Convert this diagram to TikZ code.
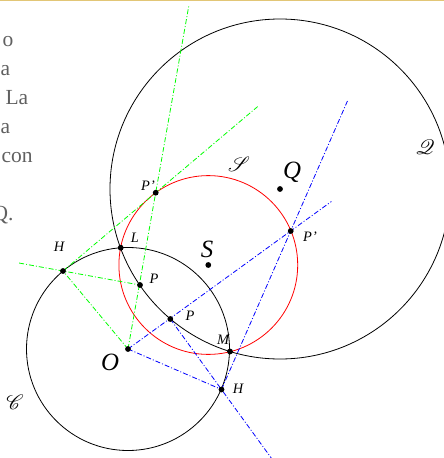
\documentclass[tikz,border=0pt]{standalone}
\usepackage{fontspec}
\setmainfont{Liberation Serif}
\usepackage{mathrsfs}
\usepackage{tikz}
\usetikzlibrary{calc}
\definecolor{pagerule}{RGB}{226,198,118}
\definecolor{pagetext}{RGB}{96,96,96}

\begin{document}
\begin{tikzpicture}[x=1pt,y=-1pt,
    every node/.style={font=\Large\itshape},
    aux/.style={line width=0.8pt, dash pattern=on 5pt off 2pt on 1pt off 2pt},
    big/.style={font=\Huge\itshape},
    scr/.style={font=\huge},
    pagefrag/.style={anchor=base west, text=pagetext, font=\fontsize{21.5}{24}\selectfont}]
    \useasboundingbox (0,0) rectangle (444,458);
    \draw[pagerule, line width=1.5pt] (0,0.5) -- (444,0.5);

    % page text cut off at the left
    \node[pagefrag] (t1) at (-1,46.5) {o};
    \node[pagefrag] (t2) at (-3,75.5) {a};
    \node[pagefrag] (t3) at (2,104) {La};
    \node[pagefrag] (t4) at (-3,133) {a};
    \node[pagefrag] (t5) at (-2,162) {con};
    \node[pagefrag] (t6) at (-11,220) {Q.};

    % points
    \coordinate (O) at (128,349);
    \coordinate (Sc) at (208.3,265);
    \coordinate (Qc) at (280,189);
    \coordinate (L) at (120.7,247.7);
    \coordinate (M) at (230,351.5);
    \coordinate (H1) at (63,271);
    \coordinate (P1) at (140,285);
    \coordinate (P1p) at (155.7,192.7);
    \coordinate (P2) at (170.3,319);
    \coordinate (P2p) at (290.7,231);
    \coordinate (H2) at (221.5,389.5);

    % circles
    \draw[line width=0.8pt] (O) circle[radius=101.5pt];
    \draw[line width=0.8pt] (Qc) circle[radius=170pt];
    \draw[line width=0.8pt, red] (Sc) circle[radius=89.4pt];

    % inversion of the upper P
    \draw[aux, green] (O) -- ($(O)!2.2!(P1p)$);
    \draw[aux, green] (H1) -- ($(H1)!2.1!(P1p)$);
    \draw[aux, green] ($(P1)!1.57!(H1)$) -- (P1);
    \draw[aux, green] (O) -- (H1);

    % inversion of the lower P
    \draw[aux, blue] (O) -- ($(O)!1.25!(P2p)$);
    \draw[aux, blue] (P2) -- ($(P2)!2.0!(H2)$);
    \draw[aux, blue] (O) -- (H2);
    \draw[aux, blue] (H2) -- ($(H2)!1.82!(P2p)$);

    \foreach \p in {O,Sc,Qc,L,M,H1,P1,P1p,P2,P2p,H2}
        \fill (\p) circle[radius=2.9pt];

    % labels
    \node[big] (lO) at (110,362) {O};
    \node[big] (lS) at (207,249) {S};
    \node[big] (lQ) at (292,172) {Q};
    \node (lH1) at (59,247) {H};
    \node (lL) at (135,238) {L};
    \node (lP1) at (154,279) {P};
    \node (lP1p) at (148,186) {P'};
    \node (lP2) at (190,316) {P};
    \node (lM) at (223,340) {M};
    \node (lH2) at (238,389) {H};
    \node (lP2p) at (310,237) {P'};
    \node[scr] (cS) at (239,164) {$\mathscr{S}$};
    \node[scr] (cQ) at (425,147) {$\mathscr{Q}$};
    \node[scr] (cC) at (15,402) {$\mathscr{C}$};
\end{tikzpicture}
\end{document}
